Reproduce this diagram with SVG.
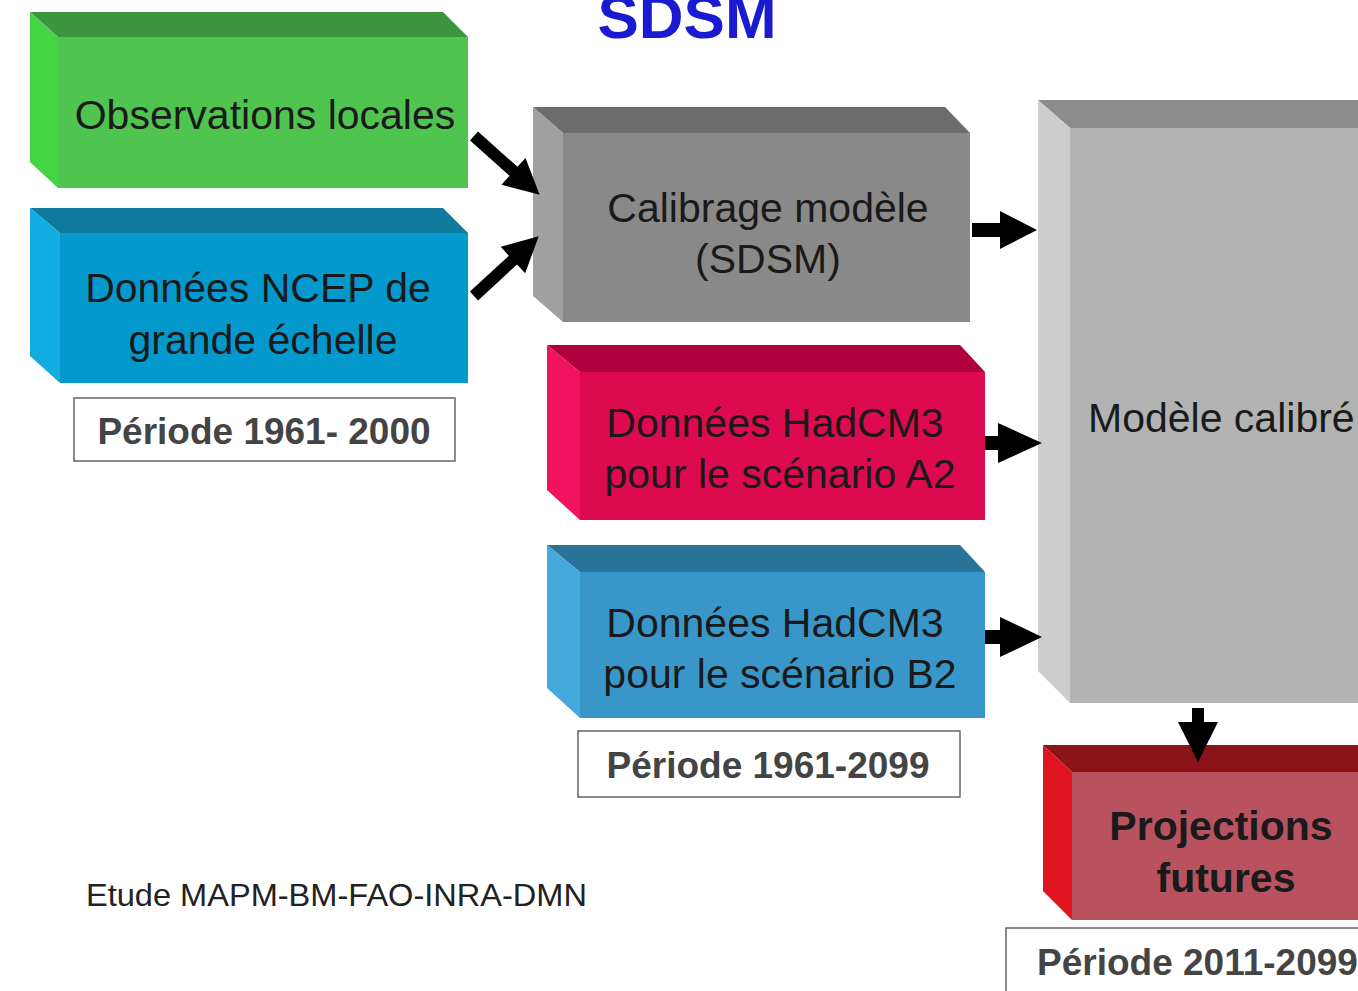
<svg xmlns="http://www.w3.org/2000/svg" width="1358" height="991" viewBox="0 0 1358 991">
<style>
  .lbl { font-family: "Liberation Sans", Arial, sans-serif; font-size: 41px; fill: #1a1a1a; }
  .bold { font-weight: bold; }
  .per { font-family: "Liberation Sans", Arial, sans-serif; font-size: 37px; font-weight: bold; fill: #444; }
  .perbox { fill: #fff; stroke: #666; stroke-width: 1.5; }
  .arrow { fill: #000; }
</style>
<rect width="1358" height="991" fill="#fff"/>

<text x="687" y="38" text-anchor="middle" font-family="Liberation Sans, Arial, sans-serif" font-size="62" font-weight="bold" fill="#1a1ad0">SDSM</text>

<g id="obs">
  <rect x="58" y="37" width="410" height="151" fill="#4fc44f"/>
  <polygon points="30,12 443,12 468,37 58,37" fill="#3d963d"/>
  <polygon points="30,12 58,37 58,188 30,162" fill="#44d444"/>
  <text class="lbl" x="265" y="129" text-anchor="middle">Observations locales</text>
</g>

<g id="ncep">
  <rect x="60" y="233" width="408" height="150" fill="#0399cc"/>
  <polygon points="30,208 443,208 468,233 60,233" fill="#107a9c"/>
  <polygon points="30,208 60,233 60,383 30,356" fill="#12ade0"/>
  <text class="lbl" x="258" y="302" text-anchor="middle">Données NCEP de</text>
  <text class="lbl" x="263" y="354" text-anchor="middle">grande échelle</text>
</g>

<g id="per1">
  <rect class="perbox" x="74" y="398" width="381" height="63"/>
  <text class="per" x="264" y="444" text-anchor="middle">Période 1961- 2000</text>
</g>

<g id="calib">
  <rect x="563" y="133" width="407" height="189" fill="#898989"/>
  <polygon points="533,107 945,107 970,133 563,133" fill="#6c6c6c"/>
  <polygon points="533,107 563,133 563,322 533,296" fill="#a0a0a0"/>
  <text class="lbl" x="768" y="222" text-anchor="middle">Calibrage modèle</text>
  <text class="lbl" x="768" y="273" text-anchor="middle">(SDSM)</text>
</g>

<g id="a2">
  <rect x="580" y="372" width="405" height="148" fill="#de0a50"/>
  <polygon points="547,345 960,345 985,372 580,372" fill="#ae003c"/>
  <polygon points="547,345 580,372 580,520 547,490" fill="#f0125e"/>
  <text class="lbl" x="775" y="437" text-anchor="middle">Données HadCM3</text>
  <text class="lbl" x="780" y="488" text-anchor="middle">pour le scénario A2</text>
</g>

<g id="b2">
  <rect x="580" y="572" width="405" height="146" fill="#3897c8"/>
  <polygon points="547,545 960,545 985,572 580,572" fill="#2a7398"/>
  <polygon points="547,545 580,572 580,718 547,688" fill="#45a9de"/>
  <text class="lbl" x="775" y="637" text-anchor="middle">Données HadCM3</text>
  <text class="lbl" x="780" y="688" text-anchor="middle">pour le scénario B2</text>
</g>

<g id="per2">
  <rect class="perbox" x="578" y="731" width="382" height="66"/>
  <text class="per" x="768" y="778" text-anchor="middle">Période 1961-2099</text>
</g>

<g id="model">
  <rect x="1070" y="128" width="300" height="575" fill="#b3b3b3"/>
  <polygon points="1038,100 1370,100 1370,128 1070,128" fill="#8c8c8c"/>
  <polygon points="1038,100 1070,128 1070,703 1038,671" fill="#cdcdcd"/>
  <text class="lbl" x="1088" y="432">Modèle calibré</text>
</g>

<g id="proj">
  <rect x="1072" y="772" width="300" height="148" fill="#b8525f"/>
  <polygon points="1043,745 1370,745 1370,772 1072,772" fill="#8a1418"/>
  <polygon points="1043,745 1072,772 1072,920 1043,891" fill="#e0141e"/>
  <text class="lbl bold" x="1221" y="840" text-anchor="middle" fill="#102010">Projections</text>
  <text class="lbl bold" x="1226" y="892" text-anchor="middle">futures</text>
</g>

<g id="per3">
  <rect class="perbox" x="1006" y="928" width="362" height="70"/>
  <text class="per" x="1037" y="975">Période 2011-2099</text>
</g>

<g id="connectors">
  <path class="arrow" transform="translate(474,136) rotate(41.8)" d="M0,-6 H53 V-18 L88,0 L53,18 V6 H0 Z"/>
  <path class="arrow" transform="translate(474,296) rotate(-42.7)" d="M0,-6 H53 V-18 L88,0 L53,18 V6 H0 Z"/>
  <path class="arrow" transform="translate(972,230)" d="M0,-7 H28 V-19 L65,0 L28,19 V7 H0 Z"/>
  <path class="arrow" transform="translate(985,443)" d="M0,-7 H13 V-20 L57,0 L13,20 V7 H0 Z"/>
  <path class="arrow" transform="translate(985,637)" d="M0,-7 H15 V-20 L57,0 L15,20 V7 H0 Z"/>
  <path class="arrow" transform="translate(1198,708) rotate(90)" d="M0,-6 H14 V-20 L54,0 L14,20 V6 H0 Z"/>
</g>

<text x="86" y="906" font-family="Liberation Sans, Arial, sans-serif" font-size="32" fill="#222" textLength="501" lengthAdjust="spacingAndGlyphs">Etude MAPM-BM-FAO-INRA-DMN</text>
</svg>
